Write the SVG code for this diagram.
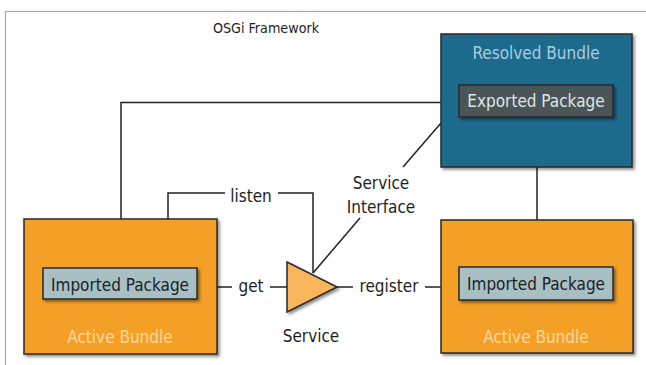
<svg xmlns="http://www.w3.org/2000/svg" width="646" height="365" viewBox="0 0 646 365">
<defs>
<filter id="sh" x="-10%" y="-10%" width="130%" height="130%">
<feDropShadow dx="2" dy="2" stdDeviation="1.5" flood-color="#000" flood-opacity="0.45"/>
</filter>
<style>
text{font-family:"DejaVu Sans Condensed","DejaVu Sans",sans-serif;font-size:17px;text-anchor:middle}
.lbl{fill:#1e1e1e}
.box{stroke:#2a2a2a;stroke-width:1.5;filter:url(#sh)}
.active{fill:#f4a026}
.resolved{fill:#1f6a8c}
.imp{fill:#a8c0c4}
.exp{fill:#4b5558}
.conn{fill:none;stroke:#222;stroke-width:1.5}
.atext{fill:#fcd9a2}
</style>
</defs>
<rect x="0" y="0" width="646" height="365" fill="#fff"/>
<rect id="frame" x="5.5" y="11.5" width="660" height="380" fill="none" stroke="#a6a6a6" stroke-width="1.2"/>
<text x="266" y="33" class="lbl" style="font-size:14.2px">OSGi Framework</text>

<g id="connectors">
<polyline class="conn" points="121,268 121,102.5 459,102.5"/>
<line class="conn" x1="460" y1="101" x2="403" y2="167"/>
<line class="conn" x1="360" y1="218" x2="313" y2="273"/>
<line class="conn" x1="537" y1="117" x2="537" y2="267"/>
<polyline class="conn" points="168,219 168,193 225,193"/>
<polyline class="conn" points="278,193 313,193 313,273"/>
<line class="conn" x1="217" y1="287" x2="232" y2="287"/>
<line class="conn" x1="270" y1="287" x2="287" y2="287"/>
<line class="conn" x1="337" y1="287" x2="353" y2="287"/>
<line class="conn" x1="425" y1="287" x2="441" y2="287"/>
</g>

<g id="resolved-bundle">
<rect class="box resolved" x="441" y="34" width="191" height="133"/>
<text x="536" y="59" fill="#a9cde0">Resolved Bundle</text>
</g>
<g id="exported-package">
<rect class="box exp" x="459" y="85" width="154" height="32"/>
<text x="536" y="107" fill="#dde6e6">Exported Package</text>
</g>

<g id="active-bundle-left">
<rect class="box active" x="24" y="219" width="193" height="135"/>
<text x="120" y="343" class="atext">Active Bundle</text>
</g>
<g id="imported-package-left">
<rect class="box imp" x="43" y="268" width="154" height="31"/>
<text x="120" y="291" class="lbl">Imported Package</text>
</g>

<g id="active-bundle-right">
<rect class="box active" x="441" y="220" width="192" height="133"/>
<text x="536" y="343" class="atext">Active Bundle</text>
</g>
<g id="imported-package-right">
<rect class="box imp" x="459" y="267" width="154" height="33"/>
<text x="536" y="290" class="lbl">Imported Package</text>
</g>

<g id="service">
<polygon points="287,262 337,287 287,312" fill="#f9b55b" stroke="#2a2a2a" stroke-width="1.5" filter="url(#sh)"/>
<text x="311" y="342" class="lbl">Service</text>
</g>

<g id="labels">
<text x="251" y="202" class="lbl">listen</text>
<text x="381" y="189" class="lbl">Service</text>
<text x="381" y="213" class="lbl">Interface</text>
<text x="251" y="292" class="lbl">get</text>
<text x="389" y="292" class="lbl">register</text>
</g>
</svg>
